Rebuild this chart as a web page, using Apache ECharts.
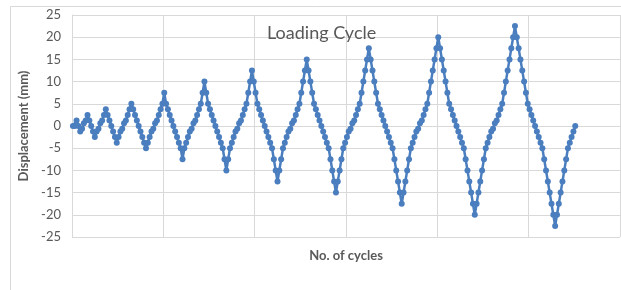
<!DOCTYPE html>
<html>
<head>
<meta charset="utf-8">
<script src="https://cdn.jsdelivr.net/npm/echarts@6/dist/echarts.min.js"></script>
<style>
html,body{margin:0;padding:0;background:#fff;}
#c{width:621px;height:290px;}
</style>
</head>
<body>
<div id="c"></div>
<script>
// Displacement values (mm), one array per loading amplitude
const cycle1 = [0, 0, 1.25, 0, -1.25];
const cycle2 = [-0.6, 0.6, 1.25, 2.5, 1.25, 0, -1.25, -2.5];
const cycle3 = [-1.25, -0.6, 0.6, 1.25, 2.5, 3.75, 2.5, 1.25, 0, -1.25, -2.5, -3.75];
const cycle4 = [-2.5, -1.25, -0.6, 0.6, 1.25, 2.5, 3.75, 5, 3.75, 2.5, 1.25, 0, -1.25, -2.5, -3.75, -5];
const cycle5 = [-3.75, -2.5, -1.25, -0.6, 0.6, 1.25, 2.5, 3.75, 5, 7.5, 5, 3.75, 2.5, 1.25, 0, -1.25, -2.5, -3.75, -5, -7.5];
const cycle6 = [-5, -3.75, -2.5, -1.25, -0.6, 0.6, 1.25, 2.5, 3.75, 5, 7.5, 10, 7.5, 5, 3.75, 2.5, 1.25, 0, -1.25, -2.5, -3.75, -5, -7.5, -10];
const cycle7 = [-7.5, -5, -3.75, -2.5, -1.25, -0.6, 0.6, 1.25, 2.5, 3.75, 5, 7.5, 10, 12.5, 10, 7.5, 5, 3.75, 2.5, 1.25, 0, -1.25, -2.5, -3.75, -5, -7.5, -10, -12.5];
const cycle8 = [-10, -7.5, -5, -3.75, -2.5, -1.25, -0.6, 0.6, 1.25, 2.5, 3.75, 5, 7.5, 10, 12.5, 15, 12.5, 10, 7.5, 5, 3.75, 2.5, 1.25, 0, -1.25, -2.5, -3.75, -5, -7.5, -10, -12.5, -15];
const cycle9 = [-12.5, -10, -7.5, -5, -3.75, -2.5, -1.25, -0.6, 0.6, 1.25, 2.5, 3.75, 5, 7.5, 10, 12.5, 15, 17.5, 15, 12.5, 10, 7.5, 5, 3.75, 2.5, 1.25, 0, -1.25, -2.5, -3.75, -5, -7.5, -10, -12.5, -15, -17.5];
const cycle10 = [-15, -12.5, -10, -7.5, -5, -3.75, -2.5, -1.25, -0.6, 0.6, 1.25, 2.5, 3.75, 5, 7.5, 10, 12.5, 15, 17.5, 20, 17.5, 15, 12.5, 10, 7.5, 5, 3.75, 2.5, 1.25, 0, -1.25, -2.5, -3.75, -5, -7.5, -10, -12.5, -15, -17.5, -20];
const cycle11 = [-17.5, -15, -12.5, -10, -7.5, -5, -3.75, -2.5, -1.25, -0.6, 0.6, 1.25, 2.5, 3.75, 5, 7.5, 10, 12.5, 15, 17.5, 20, 22.5, 20, 17.5, 15, 12.5, 10, 7.5, 5, 3.75, 2.5, 1.25, 0, -1.25, -2.5, -3.75, -5, -7.5, -10, -12.5, -15, -17.5, -20, -22.5];
const finalReturn = [-20, -17.5, -15, -12.5, -10, -7.5, -5, -3.75, -2.5, -1.25, 0];

const categoryCount = 300;
const yTicks = { min: -25, max: 25, interval: 5 };

const values = [].concat(cycle1, cycle2, cycle3, cycle4, cycle5, cycle6, cycle7, cycle8, cycle9, cycle10, cycle11, finalReturn);
const categories = [];
for (let i = 1; i <= categoryCount; i++) categories.push(String(i));

const chart = echarts.init(document.getElementById('c'), null, {renderer: 'canvas'});
const grey = '#d9d9d9';
const textGrey = '#595959';
chart.setOption({
  animation: false,
  backgroundColor: '#ffffff',
  graphic: [{
    type: 'rect',
    shape: {x: 10.5, y: 6.5, width: 800, height: 400},
    style: {fill: 'none', stroke: grey, lineWidth: 1},
    z: -10
  }],
  title: {
    text: 'Loading Cycle',
    left: 262, top: 19,
    textStyle: {fontFamily: 'Lato', fontSize: 18, fontWeight: 'normal', color: textGrey}
  },
  grid: {left: 72, top: 15, width: 548, height: 222, containLabel: false},
  xAxis: {
    type: 'category',
    data: categories,
    boundaryGap: true,
    name: 'No. of cycles',
    nameLocation: 'middle',
    nameGap: 12,
    nameTextStyle: {fontFamily: 'Lato', fontSize: 13, fontWeight: 'bold', color: textGrey},
    axisLine: {show: false},
    axisTick: {show: false},
    axisLabel: {show: false, interval: 49},
    splitLine: {show: true, interval: 49, lineStyle: {color: grey, width: 1}}
  },
  yAxis: {
    type: 'value',
    min: yTicks.min, max: yTicks.max, interval: yTicks.interval,
    name: 'Displacement (mm)',
    nameLocation: 'middle',
    nameGap: 32,
    nameTextStyle: {fontFamily: 'Lato', fontSize: 13, fontWeight: 'bold', color: textGrey},
    axisLine: {show: true, lineStyle: {color: grey}},
    axisTick: {show: false},
    axisLabel: {margin: 11, fontFamily: 'Lato', fontSize: 13, color: textGrey},
    splitLine: {show: true, lineStyle: {color: grey, width: 1}}
  },
  series: [{
    type: 'line',
    data: values,
    symbol: 'circle',
    symbolSize: 6,
    showAllSymbol: true,
    lineStyle: {color: '#4a7ebf', width: 2.5},
    itemStyle: {color: '#4a7ebf'}
  }]
});
</script>
</body>
</html>
